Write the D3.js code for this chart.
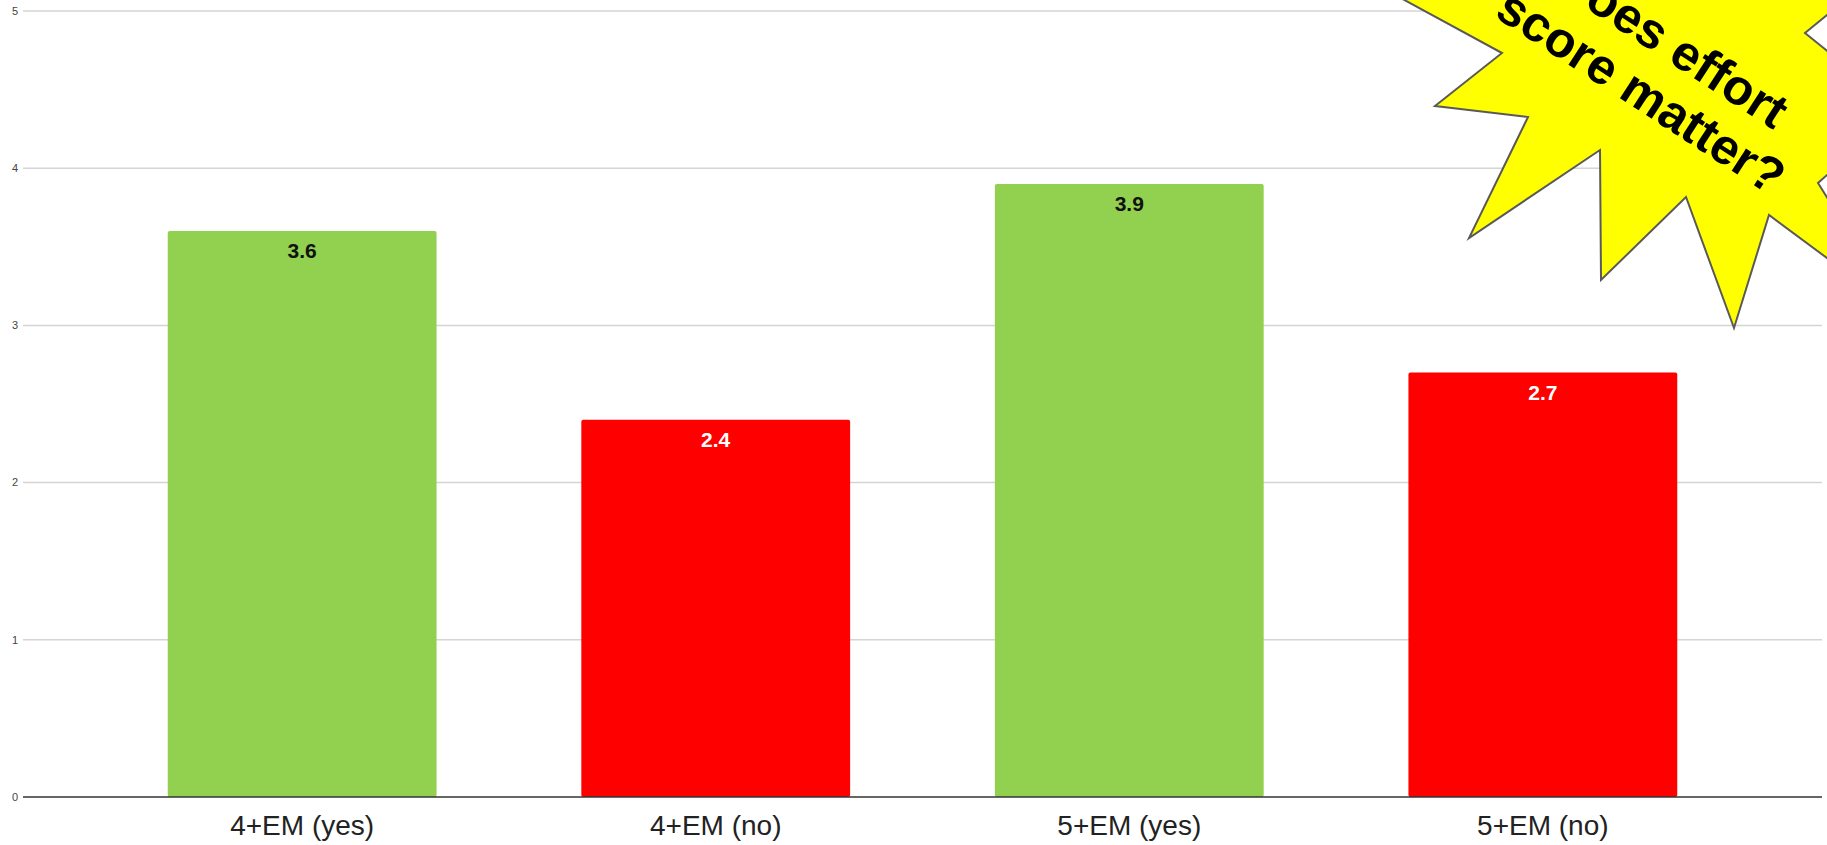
<!DOCTYPE html>
<html>
<head>
<meta charset="utf-8">
<script src="https://cdn.jsdelivr.net/npm/d3@7"></script>
<style>
    html, body { margin: 0; padding: 0; background: #fff; }
    svg { display: block; font-family: "Liberation Sans", Arial, sans-serif; }
</style>
</head>
<body>
<div id="chart"></div>
<script>
// Chart data
const categories = ['4+EM (yes)', '4+EM (no)', '5+EM (yes)', '5+EM (no)'];
const values = [3.6, 2.4, 3.9, 2.7];
const barColors = ['#92d050', '#ff0000', '#92d050', '#ff0000'];
const labelColors = ['#111111', '#ffffff', '#111111', '#ffffff'];
const yTicks = [0, 1, 2, 3, 4, 5];

// Callout burst (decoration), text lines
const calloutLines = ['Does effort', 'score matter?'];
const burstPoints = [
    [1340, -35], [1502, 53], [1435, 106], [1528, 117], [1469, 238],
    [1600, 150], [1601, 280], [1686, 197], [1734, 328], [1769, 215],
    [1897, 310], [1818, 183], [1900, 110], [1805, 33], [1870, -20],
    [1700, -60]
];

const width = 1827;
const height = 845;
const plot = { left: 23, right: 1822, top: 11, bottom: 797 };

const svg = d3.select('#chart')
    .append('svg')
    .attr('width', width)
    .attr('height', height)
    .attr('viewBox', [0, 0, width, height]);

const x = d3.scaleBand()
    .domain(categories)
    .range([plot.left, plot.right])
    .paddingInner(0.35)
    .paddingOuter(0.35);

const y = d3.scaleLinear()
    .domain([0, 5])
    .range([plot.bottom, plot.top]);

// Gridlines
svg.append('g')
    .selectAll('line')
    .data(yTicks.filter(d => d !== 0))
    .join('line')
    .attr('x1', plot.left)
    .attr('x2', plot.right)
    .attr('y1', d => y(d))
    .attr('y2', d => y(d))
    .attr('stroke', '#d4d4d4')
    .attr('stroke-width', 1.5);

// Y tick labels
svg.append('g')
    .selectAll('text')
    .data(yTicks)
    .join('text')
    .attr('x', 18)
    .attr('y', d => y(d))
    .attr('dy', '0.35em')
    .attr('text-anchor', 'end')
    .attr('font-size', 11)
    .attr('fill', '#444')
    .text(d => d);

// Bars
svg.append('g')
    .selectAll('rect')
    .data(values)
    .join('rect')
    .attr('x', (d, i) => x(categories[i]))
    .attr('y', d => y(d))
    .attr('width', x.bandwidth())
    .attr('height', d => y(0) - y(d))
    .attr('rx', 2)
    .attr('fill', (d, i) => barColors[i]);

// Baseline
svg.append('line')
    .attr('x1', plot.left)
    .attr('x2', plot.right)
    .attr('y1', y(0))
    .attr('y2', y(0))
    .attr('stroke', '#333')
    .attr('stroke-width', 1.5);

// Value labels
svg.append('g')
    .selectAll('text')
    .data(values)
    .join('text')
    .attr('x', (d, i) => x(categories[i]) + x.bandwidth() / 2)
    .attr('y', d => y(d) + 27)
    .attr('text-anchor', 'middle')
    .attr('font-size', 21)
    .attr('font-weight', 'bold')
    .attr('fill', (d, i) => labelColors[i])
    .text(d => d.toFixed(1));

// Category labels
const xAxis = d3.axisBottom(x).tickSize(0).tickPadding(0);
svg.append('g')
    .attr('transform', `translate(0,${y(0)})`)
    .call(xAxis)
    .call(g => g.select('.domain').remove())
    .call(g => g.selectAll('text')
        .attr('y', 38)
        .attr('dy', 0)
        .attr('font-size', 28)
        .attr('font-family', '"Liberation Sans", Arial, sans-serif')
        .attr('fill', '#222'));

// Callout burst
svg.append('polygon')
    .attr('points', burstPoints.map(p => p.join(',')).join(' '))
    .attr('fill', '#ffff00')
    .attr('stroke', '#595959')
    .attr('stroke-width', 2)
    .attr('stroke-linejoin', 'miter');

const callout = svg.append('g')
    .attr('transform', 'translate(1632,106) rotate(33)');

callout.selectAll('text')
    .data(calloutLines)
    .join('text')
    .attr('x', 0)
    .attr('y', (d, i) => (i - 1) * 57)
    .attr('text-anchor', 'middle')
    .attr('font-size', 50)
    .attr('font-weight', 'bold')
    .attr('fill', '#000')
    .text(d => d);
</script>
</body>
</html>
